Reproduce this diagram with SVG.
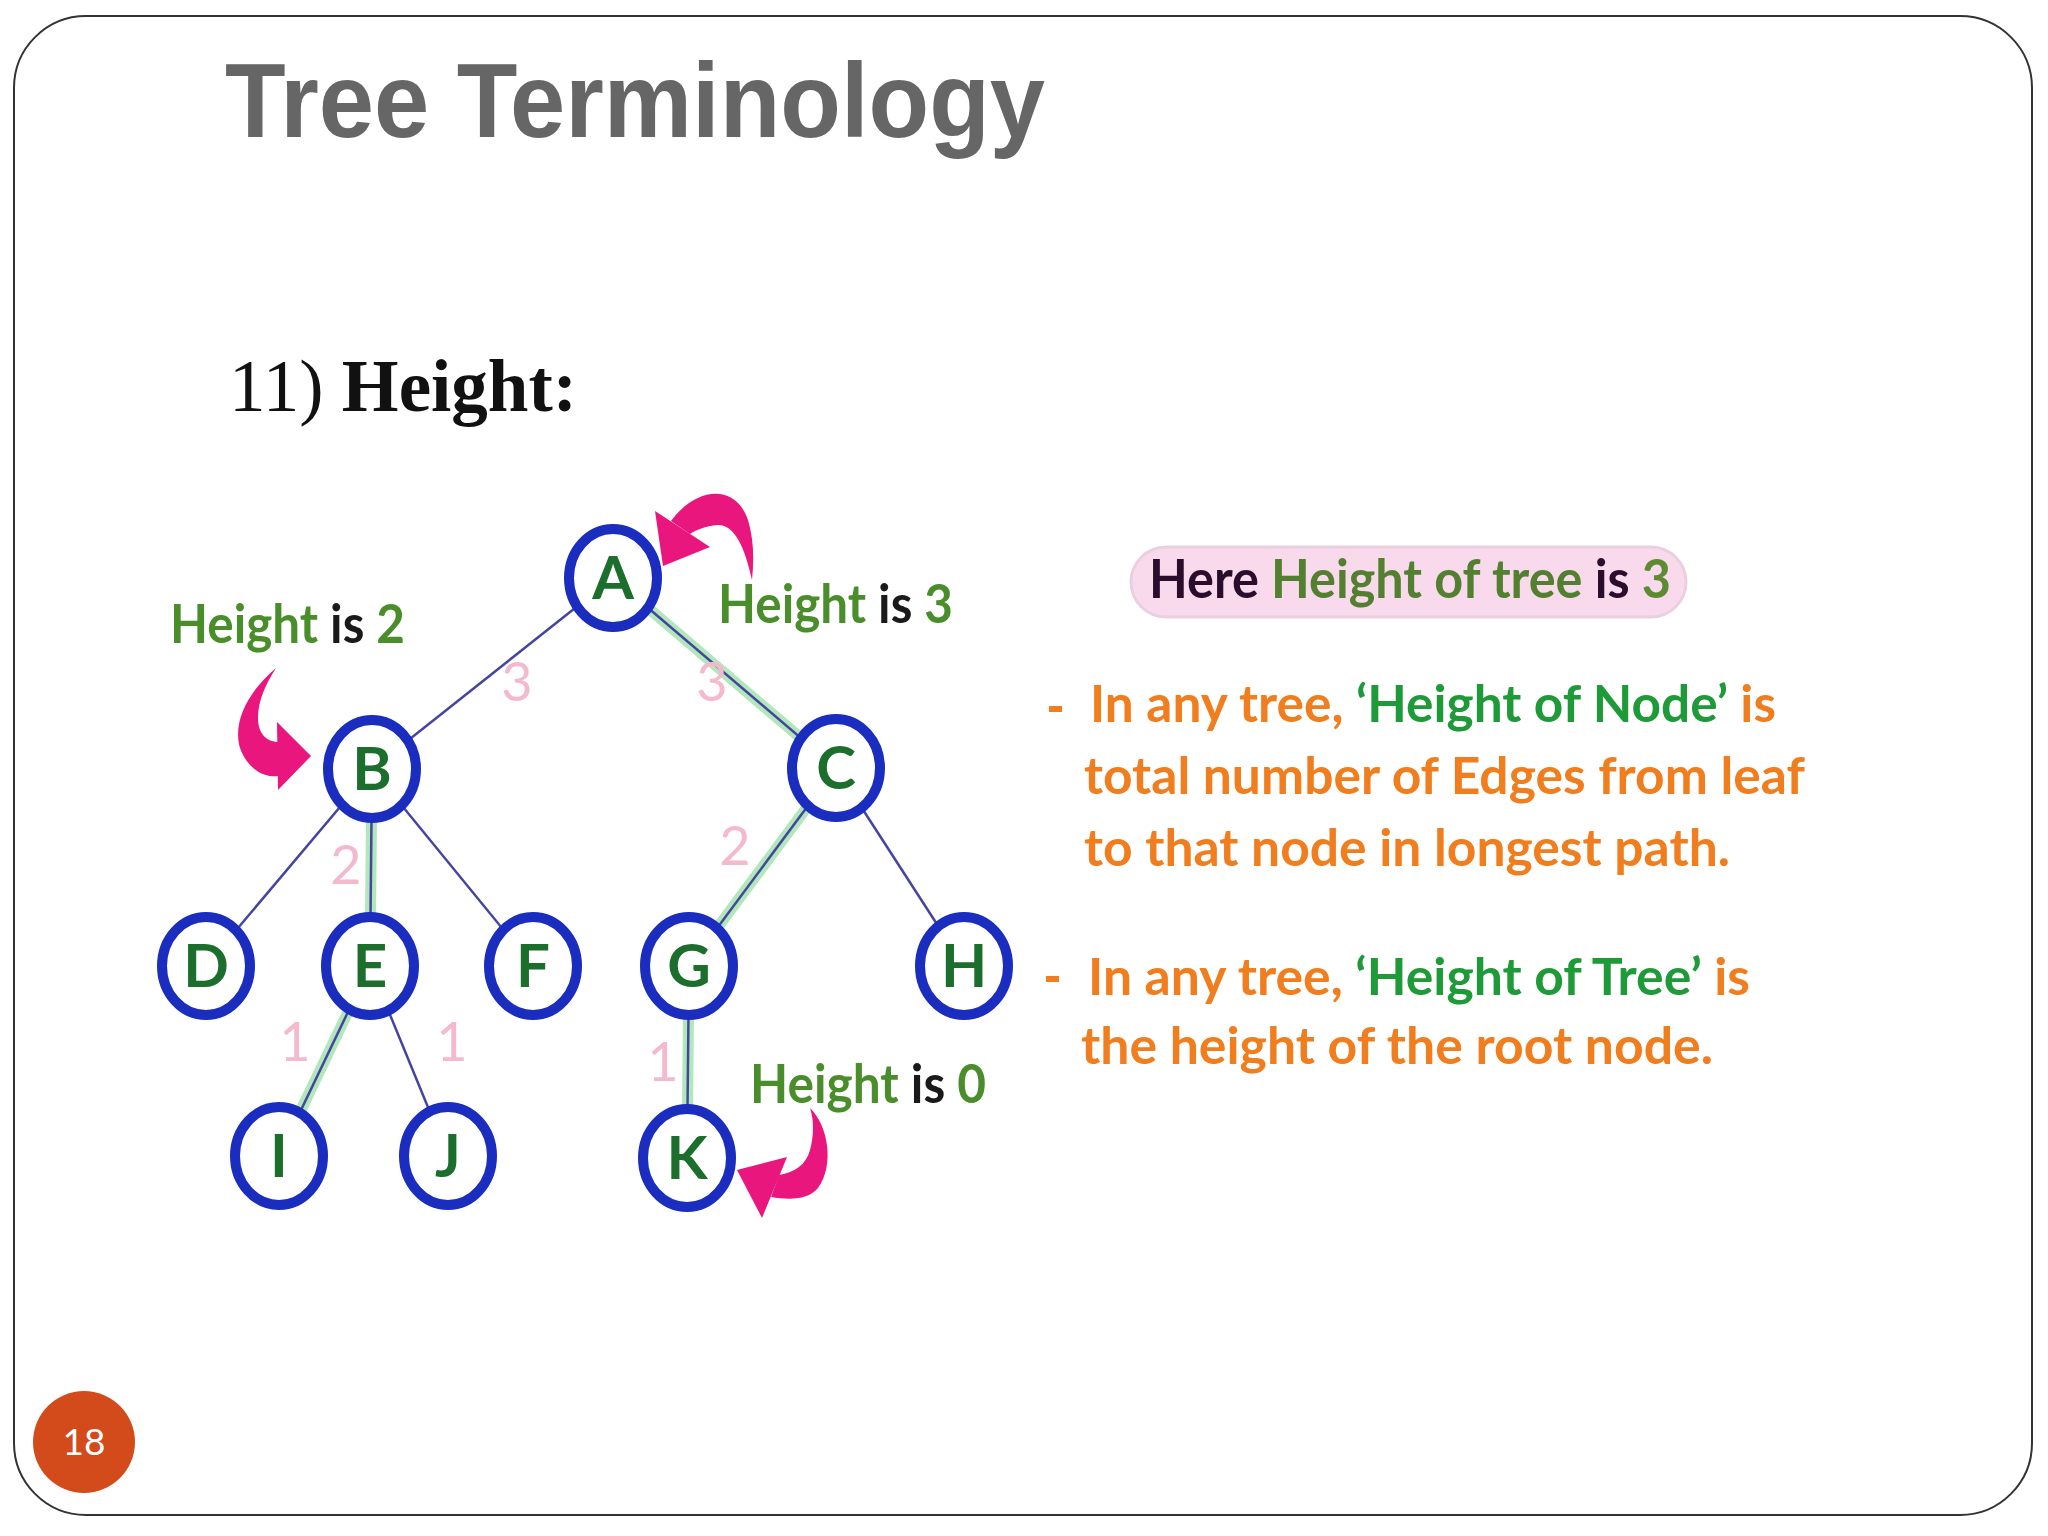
<svg xmlns="http://www.w3.org/2000/svg" width="2048" height="1536" viewBox="0 0 2048 1536">
<style>
.title{font-family:"Liberation Sans",Arial,sans-serif;font-size:106px;font-weight:bold;fill:#666666}
.sub{font-family:"Liberation Serif","Times New Roman",serif;font-size:73px;fill:#111111}
.node ellipse{fill:#ffffff;stroke:#1a2dbf;stroke-width:10}
.node text{font-family:Lato,"Noto Sans",sans-serif;font-weight:bold;font-size:60px;fill:#1b6e2b;text-anchor:middle}
.edge{stroke:#4545a0;stroke-width:2.5;fill:none}
.glow{stroke:#a8e4b2;stroke-width:11;fill:none;stroke-linecap:round;opacity:0.9}
.elabel{font-family:Lato,"Noto Sans",sans-serif;font-size:54px;fill:#f5b9cd;text-anchor:middle}
.hl{font-family:Lato,"Noto Sans",sans-serif;font-weight:bold;font-size:54px}
.g{fill:#4a8d2b}
.k{fill:#1a1a1a}
.pinkarrow{fill:#e8167d}
.txt{font-family:Lato,"Noto Sans",sans-serif;font-weight:bold;font-size:52px;fill:#f07d1e}
.tg{fill:#1f9a38}
.pill{font-family:Lato,"Noto Sans",sans-serif;font-weight:bold;font-size:53px}
</style>
<rect x="14" y="16" width="2018" height="1499" rx="72" ry="72" fill="#ffffff" stroke="#333333" stroke-width="2"/>
<text class="title" x="225" y="137" textLength="820" lengthAdjust="spacingAndGlyphs">Tree Terminology</text>
<text class="sub" x="229" y="411">11) <tspan font-weight="bold">Height:</tspan></text>

<g id="connectors">
  <line class="glow" x1="613" y1="578" x2="836" y2="768"/>
  <line class="glow" x1="372" y1="769" x2="370" y2="966"/>
  <line class="glow" x1="370" y1="966" x2="279" y2="1156"/>
  <line class="glow" x1="836" y1="768" x2="689" y2="966"/>
  <line class="glow" x1="689" y1="966" x2="687" y2="1158"/>
  <line class="edge" x1="613" y1="578" x2="372" y2="769"/>
  <line class="edge" x1="613" y1="578" x2="836" y2="768"/>
  <line class="edge" x1="372" y1="769" x2="206" y2="966"/>
  <line class="edge" x1="372" y1="769" x2="370" y2="966"/>
  <line class="edge" x1="372" y1="769" x2="533" y2="966"/>
  <line class="edge" x1="836" y1="768" x2="689" y2="966"/>
  <line class="edge" x1="836" y1="768" x2="964" y2="966"/>
  <line class="edge" x1="370" y1="966" x2="279" y2="1156"/>
  <line class="edge" x1="370" y1="966" x2="448" y2="1156"/>
  <line class="edge" x1="689" y1="966" x2="687" y2="1158"/>
  <text class="elabel" x="517" y="701">3</text>
  <text class="elabel" x="712" y="701">3</text>
  <text class="elabel" x="346" y="884">2</text>
  <text class="elabel" x="735" y="865">2</text>
  <text class="elabel" x="295" y="1061">1</text>
  <text class="elabel" x="452" y="1061">1</text>
  <text class="elabel" x="663" y="1081">1</text>
</g>

<g id="node-A" class="node"><ellipse cx="613" cy="578" rx="44" ry="49"/><text x="613" y="599">A</text></g>
<g id="node-B" class="node"><ellipse cx="372" cy="769" rx="44" ry="49"/><text x="372" y="790">B</text></g>
<g id="node-C" class="node"><ellipse cx="836" cy="768" rx="44" ry="49"/><text x="836" y="789">C</text></g>
<g id="node-D" class="node"><ellipse cx="206" cy="966" rx="44" ry="49"/><text x="206" y="987">D</text></g>
<g id="node-E" class="node"><ellipse cx="370" cy="966" rx="44" ry="49"/><text x="370" y="987">E</text></g>
<g id="node-F" class="node"><ellipse cx="533" cy="966" rx="44" ry="49"/><text x="533" y="987">F</text></g>
<g id="node-G" class="node"><ellipse cx="689" cy="966" rx="44" ry="49"/><text x="689" y="987">G</text></g>
<g id="node-H" class="node"><ellipse cx="964" cy="966" rx="44" ry="49"/><text x="964" y="987">H</text></g>
<g id="node-I" class="node"><ellipse cx="279" cy="1156" rx="44" ry="49"/><text x="279" y="1177">I</text></g>
<g id="node-J" class="node"><ellipse cx="448" cy="1156" rx="44" ry="49"/><text x="448" y="1177">J</text></g>
<g id="node-K" class="node"><ellipse cx="687" cy="1158" rx="44" ry="49"/><text x="687" y="1179">K</text></g>

<g id="arrow-A" class="pinkarrow">
  <polygon points="663,566 655,511 710,547"/>
  <path d="M671,521 C695,488 735,482 748,520 C754,540 754,560 752,580 C745,548 735,525 718,525 C705,526 696,530 690,534 Z"/>
</g>
<g id="arrow-B" class="pinkarrow">
  <polygon points="311,756 277,722 278,790"/>
  <path d="M276,668 C250,690 232,720 240,748 C248,770 265,778 279,776 L279,742 C265,742 258,732 258,718 C258,700 266,684 276,668 Z"/>
</g>
<g id="arrow-K" class="pinkarrow">
  <polygon points="737,1170 787,1157 762,1218"/>
  <path d="M810,1108 C828,1125 835,1165 818,1188 C808,1200 790,1200 771,1197 L779,1175 C795,1172 806,1165 810,1150 C814,1135 814,1120 810,1108 Z"/>
</g>

<g id="label-h2"><text class="hl" x="170" y="643" textLength="235" lengthAdjust="spacingAndGlyphs"><tspan class="g">Height </tspan><tspan class="k">is </tspan><tspan class="g">2</tspan></text></g>
<g id="label-h3"><text class="hl" x="718" y="623" textLength="235" lengthAdjust="spacingAndGlyphs"><tspan class="g">Height </tspan><tspan class="k">is </tspan><tspan class="g">3</tspan></text></g>
<g id="label-h0"><text class="hl" x="750" y="1103" textLength="236" lengthAdjust="spacingAndGlyphs"><tspan class="g">Height </tspan><tspan class="k">is </tspan><tspan class="g">0</tspan></text></g>

<g id="pill">
  <rect x="1131" y="547" width="555" height="70" rx="35" ry="35" fill="#f9d9ec" stroke="#ead0de" stroke-width="3"/>
  <text class="pill" x="1149" y="598" textLength="522" lengthAdjust="spacingAndGlyphs"><tspan fill="#2a0c2c">Here </tspan><tspan fill="#527f30">Height of tree </tspan><tspan fill="#2a0c2c">is </tspan><tspan fill="#5c8b32">3</tspan></text>
</g>

<g id="desc">
  <rect x="1049" y="706" width="13" height="6" fill="#f07d1e"/>
  <text class="txt" x="1090" y="722" textLength="686" lengthAdjust="spacingAndGlyphs">In any tree, <tspan class="tg">‘Height of Node’</tspan> is</text>
  <text class="txt" x="1084" y="794" textLength="721" lengthAdjust="spacingAndGlyphs">total number of Edges from leaf</text>
  <text class="txt" x="1084" y="866" textLength="646" lengthAdjust="spacingAndGlyphs">to that node in longest path.</text>
  <rect x="1046" y="976" width="13" height="6" fill="#f07d1e"/>
  <text class="txt" x="1088" y="995" textLength="662" lengthAdjust="spacingAndGlyphs">In any tree, <tspan class="tg">‘Height of Tree’</tspan> is</text>
  <text class="txt" x="1081" y="1064" textLength="632" lengthAdjust="spacingAndGlyphs">the height of the root node.</text>
</g>

<g id="page-number">
  <circle cx="84" cy="1442" r="51" fill="#d34b1b"/>
  <text x="84" y="1455" font-family="Lato,'Noto Sans',sans-serif" font-size="37" fill="#ffffff" text-anchor="middle">18</text>
</g>
</svg>
